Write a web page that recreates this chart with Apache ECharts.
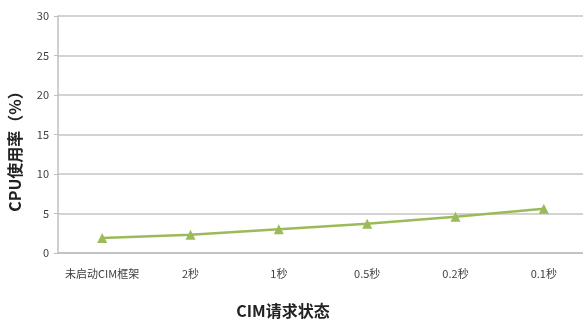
<!DOCTYPE html>
<html>
<head>
<meta charset="utf-8">
<script src="https://cdn.jsdelivr.net/npm/echarts@6/dist/echarts.min.js"></script>
<style>
  html, body { margin: 0; padding: 0; background: #fff; }
  #chart { width: 583px; height: 320px; }
</style>
</head>
<body>
<div id="chart"></div>
<script>
// CIM请求状态
var categories = ["未启动CIM框架", "2秒", "1秒", "0.5秒", "0.2秒", "0.1秒"];
// CPU使用率（%）
var cpuValues = [1.9, 2.3, 3.0, 3.7, 4.6, 5.6];
var yTicks = [0, 5, 10, 15, 20, 25, 30];

var font = "'Noto Sans CJK SC', 'Noto Sans', sans-serif";
var chart = echarts.init(document.getElementById("chart"));

chart.setOption({
  animation: false,
  grid: {
    left: 58,
    right: -5,
    top: 16,
    bottom: 67,
    containLabel: false,
    outerBoundsMode: "none"
  },
  xAxis: {
    type: "category",
    data: categories,
    name: "CIM请求状态",
    nameLocation: "middle",
    nameGap: 50,
    nameTextStyle: {
      fontFamily: font,
      fontSize: 16,
      fontWeight: "bold",
      color: "#222",
      padding: [0, 80, 0, 0]
    },
    axisLine: { lineStyle: { color: "#bfbfbf", width: 1.5 } },
    axisTick: { show: false },
    axisLabel: {
      interval: 0,
      fontFamily: font,
      fontSize: 11,
      color: "#404040",
      margin: 15
    }
  },
  yAxis: {
    type: "value",
    min: yTicks[0],
    max: yTicks[yTicks.length - 1],
    interval: 5,
    name: "CPU使用率（%）",
    nameLocation: "middle",
    nameRotate: 90,
    nameGap: 35,
    nameTextStyle: {
      fontFamily: font,
      fontSize: 16,
      fontWeight: "bold",
      color: "#222",
      padding: [0, 26, 0, 0]
    },
    axisLine: { show: true, lineStyle: { color: "#bfbfbf", width: 1.5 } },
    axisTick: { show: true, length: 4, lineStyle: { color: "#bfbfbf" } },
    axisLabel: {
      fontFamily: font,
      fontSize: 11,
      color: "#404040",
      margin: 9
    },
    splitLine: { lineStyle: { color: "#c4c4c4", width: 1.5 } }
  },
  series: [
    {
      name: "CPU使用率",
      type: "line",
      data: cpuValues,
      symbol: "triangle",
      symbolSize: 10,
      itemStyle: { color: "#9bbb59" },
      lineStyle: { color: "#9bbb59", width: 2.5 }
    }
  ]
});
</script>
</body>
</html>
